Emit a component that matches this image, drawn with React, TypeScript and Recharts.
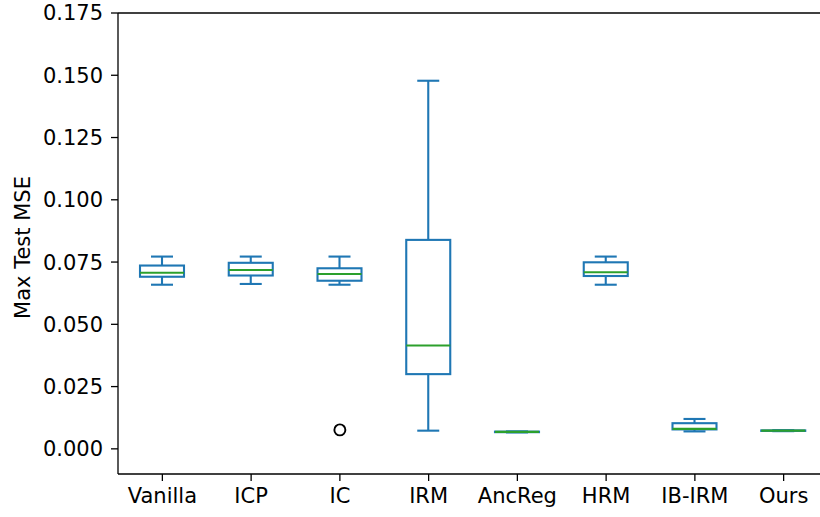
import { ComposedChart, Bar, Scatter, XAxis, YAxis, ReferenceLine } from "recharts";

const categories = ["Vanilla", "ICP", "IC", "IRM", "AncReg", "HRM", "IB-IRM", "Ours"];
const whiskerLow = [0.0659, 0.0662, 0.0659, 0.0073, 0.0066, 0.0659, 0.007, 0.0071];
const q1 = [0.0691, 0.0696, 0.0675, 0.03, 0.0067, 0.0694, 0.0078, 0.0072];
const median = [0.0707, 0.0718, 0.0702, 0.0415, 0.0068, 0.0709, 0.008, 0.0073];
const q3 = [0.0736, 0.0747, 0.0725, 0.0839, 0.0069, 0.0749, 0.0103, 0.0074];
const whiskerHigh = [0.0772, 0.0772, 0.0772, 0.1478, 0.007, 0.0772, 0.012, 0.0075];
const outliers = [null, null, 0.0076, null, null, null, null, null];
const yTicks = [0, 0.025, 0.05, 0.075, 0.1, 0.125, 0.15, 0.175];

const BLUE = "#1f77b4";
const GREEN = "#2ca02c";
const FONT = "'DejaVu Sans', sans-serif";
const FS = 21;

const data = categories.map((name, i) => ({
  name,
  range: [whiskerLow[i], whiskerHigh[i]],
  q1: q1[i],
  median: median[i],
  q3: q3[i],
  outlier: outliers[i],
}));

// draws one box + whiskers inside the rectangle recharts gives for [low, high]
function BoxShape(props: any) {
  const { x, y, width, height, payload } = props;
  const [lo, hi] = payload.range;
  const top = Math.min(y, y + height);
  const bottom = Math.max(y, y + height);
  const py = (v: number) => top + ((hi - v) / (hi - lo)) * (bottom - top);
  const cx = x + width / 2;
  const capHalf = width / 4;
  const sw = 2.1;
  return (
    <g>
      <line x1={cx} x2={cx} y1={py(hi)} y2={py(payload.q3)} stroke={BLUE} strokeWidth={sw} />
      <line x1={cx} x2={cx} y1={py(payload.q1)} y2={py(lo)} stroke={BLUE} strokeWidth={sw} />
      <line x1={cx - capHalf} x2={cx + capHalf} y1={py(hi)} y2={py(hi)} stroke={BLUE} strokeWidth={sw} />
      <line x1={cx - capHalf} x2={cx + capHalf} y1={py(lo)} y2={py(lo)} stroke={BLUE} strokeWidth={sw} />
      <rect
        x={x}
        y={py(payload.q3)}
        width={width}
        height={py(payload.q1) - py(payload.q3)}
        fill="none"
        stroke={BLUE}
        strokeWidth={sw}
      />
      <line x1={x} x2={x + width} y1={py(payload.median)} y2={py(payload.median)} stroke={GREEN} strokeWidth={sw} />
    </g>
  );
}

function OutlierShape(props: any) {
  const { cx, cy, payload } = props;
  if (!payload || payload.outlier == null || cx == null || cy == null || isNaN(cy)) return null;
  return <circle cx={cx} cy={cy} r={5.5} fill="none" stroke="#000" strokeWidth={1.9} />;
}

export default function App() {
  return (
    <div style={{ position: "absolute", left: 0, top: 0, width: 820, height: 517, overflow: "hidden", background: "#fff" }}>
      <ComposedChart
        width={830}
        height={517}
        data={data}
        margin={{ top: 13, right: 2, bottom: 0, left: 0 }}
        style={{ fontFamily: FONT }}
      >
        <XAxis
          dataKey="name"
          type="category"
          stroke="#000"
          strokeWidth={1.3}
          tickSize={7}
          tickMargin={7}
          height={43}
          tick={{ fill: "#000", fontSize: FS, fontFamily: FONT }}
          interval={0}
        />
        <YAxis
          type="number"
          domain={[-0.0101, 0.175]}
          ticks={yTicks}
          allowDataOverflow
          width={118}
          stroke="#000"
          strokeWidth={1.3}
          tickSize={7}
          tickMargin={8}
          tick={{ fill: "#000", fontSize: FS, fontFamily: FONT }}
          tickFormatter={(v: number) => v.toFixed(3)}
          label={{
            content: ({ viewBox }: any) => {
              const cy = viewBox.y + viewBox.height / 2 + 4;
              return (
                <text
                  x={23}
                  y={cy}
                  transform={`rotate(-90, 23, ${cy})`}
                  textAnchor="middle"
                  dominantBaseline="central"
                  fontSize={FS}
                  fontFamily={FONT}
                  fill="#000"
                >
                  Max Test MSE
                </text>
              );
            },
          }}
        />
        <ReferenceLine y={0.175} stroke="#000" strokeWidth={1.3} ifOverflow="visible" />
        <Bar dataKey="range" barSize={44} shape={<BoxShape />} isAnimationActive={false} />
        <Scatter dataKey="outlier" shape={<OutlierShape />} isAnimationActive={false} />
      </ComposedChart>
    </div>
  );
}
